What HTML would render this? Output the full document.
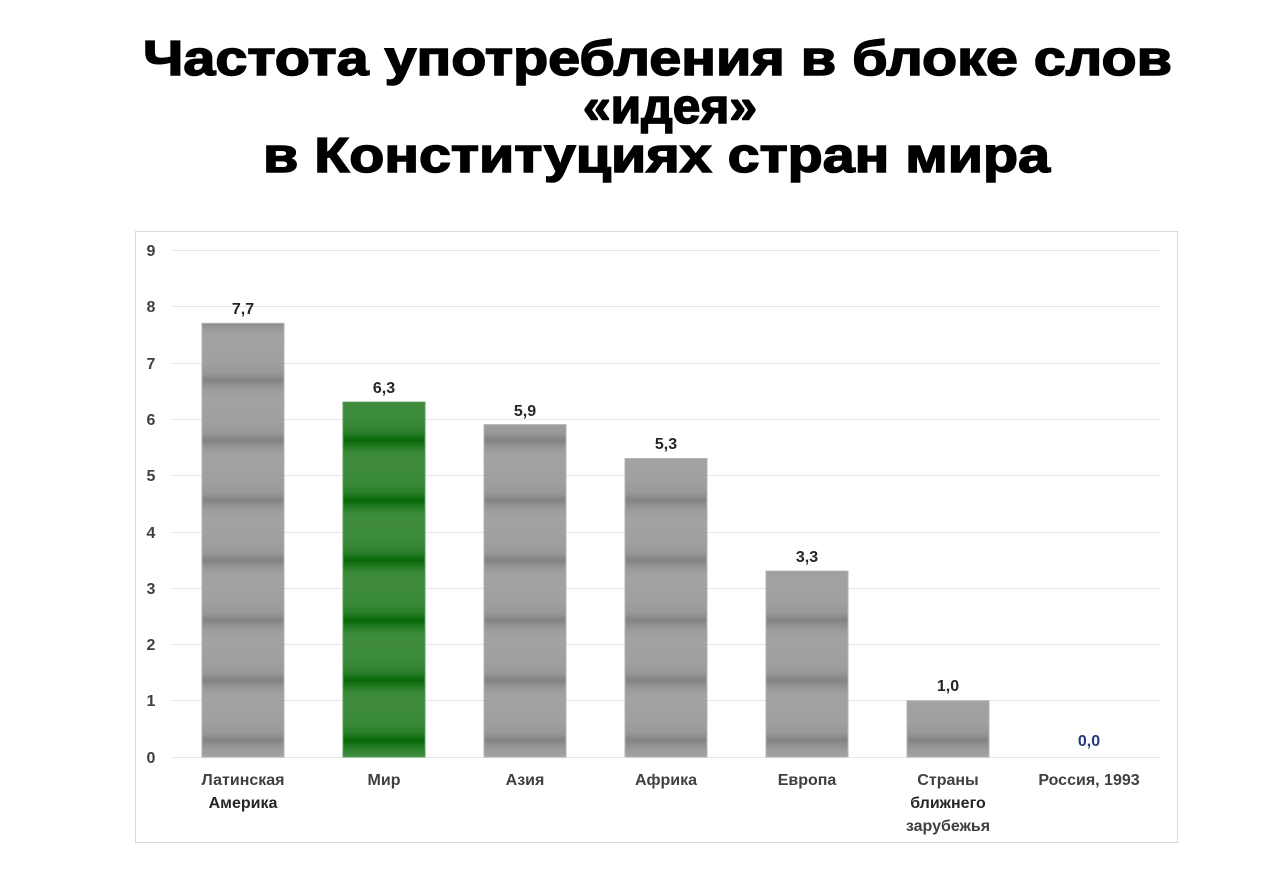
<!DOCTYPE html>
<html>
<head>
<meta charset="utf-8">
<style>
  html,body{margin:0;padding:0;background:#ffffff;}
  body{width:1280px;height:883px;overflow:hidden;}
  svg{display:block;}
</style>
</head>
<body>
<svg width="1280" height="883" viewBox="0 0 1280 883" xmlns="http://www.w3.org/2000/svg">
  <defs>
    <linearGradient id="gg" x1="0" y1="0" x2="0" y2="1">
      <stop offset="0" stop-color="#a2a2a2"/>
      <stop offset="0.4" stop-color="#a0a0a0"/>
      <stop offset="0.58" stop-color="#999999"/>
      <stop offset="0.66" stop-color="#8e8e8e"/>
      <stop offset="0.72" stop-color="#838383"/>
      <stop offset="0.79" stop-color="#8f8f8f"/>
      <stop offset="0.9" stop-color="#9d9d9d"/>
      <stop offset="1" stop-color="#a2a2a2"/>
    </linearGradient>
    <linearGradient id="gn" x1="0" y1="0" x2="0" y2="1">
      <stop offset="0" stop-color="#3f8c3f"/>
      <stop offset="0.4" stop-color="#3b893b"/>
      <stop offset="0.58" stop-color="#2c802c"/>
      <stop offset="0.66" stop-color="#177317"/>
      <stop offset="0.72" stop-color="#066706"/>
      <stop offset="0.79" stop-color="#187418"/>
      <stop offset="0.9" stop-color="#328532"/>
      <stop offset="1" stop-color="#3f8c3f"/>
    </linearGradient>
    <pattern id="pg" patternUnits="userSpaceOnUse" x="0" y="697" width="1280" height="60">
      <rect x="0" y="0" width="1280" height="60" fill="url(#gg)"/>
    </pattern>
    <pattern id="pn" patternUnits="userSpaceOnUse" x="0" y="697" width="1280" height="60">
      <rect x="0" y="0" width="1280" height="60" fill="url(#gn)"/>
    </pattern>
  </defs>

  <!-- Title -->
  <g font-family="'Liberation Sans', Arial, sans-serif" font-weight="bold" font-size="49" fill="#000" stroke="#000" stroke-width="1.5" text-anchor="start">
    <text x="143" y="75" textLength="1029" lengthAdjust="spacingAndGlyphs">Частота употребления в блоке слов</text>
    <text x="583" y="123" textLength="174" lengthAdjust="spacingAndGlyphs">«идея»</text>
    <text x="263" y="172" textLength="787" lengthAdjust="spacingAndGlyphs">в Конституциях стран мира</text>
  </g>

  <!-- Chart frame -->
  <rect x="135.5" y="231.5" width="1042" height="611" fill="#ffffff" stroke="#d9d9d9" stroke-width="1"/>

  <!-- Gridlines -->
  <g stroke="#e6e6e6" stroke-width="1">
    <line x1="172" y1="250.5" x2="1160" y2="250.5"/>
    <line x1="172" y1="306.5" x2="1160" y2="306.5"/>
    <line x1="172" y1="363.5" x2="1160" y2="363.5"/>
    <line x1="172" y1="419.5" x2="1160" y2="419.5"/>
    <line x1="172" y1="475.5" x2="1160" y2="475.5"/>
    <line x1="172" y1="532.5" x2="1160" y2="532.5"/>
    <line x1="172" y1="588.5" x2="1160" y2="588.5"/>
    <line x1="172" y1="644.5" x2="1160" y2="644.5"/>
    <line x1="172" y1="700.5" x2="1160" y2="700.5"/>
    <line x1="172" y1="757.5" x2="1160" y2="757.5"/>
  </g>

  <!-- Y axis labels -->
  <g font-family="'Liberation Sans', Arial, sans-serif" font-weight="bold" font-size="16" fill="#404040" text-anchor="middle">
    <text x="151" y="256">9</text>
    <text x="151" y="312">8</text>
    <text x="151" y="369">7</text>
    <text x="151" y="425">6</text>
    <text x="151" y="481">5</text>
    <text x="151" y="538">4</text>
    <text x="151" y="594">3</text>
    <text x="151" y="650">2</text>
    <text x="151" y="706">1</text>
    <text x="151" y="763">0</text>
  </g>

  <!-- Bars -->
  <g stroke-width="1">
    <rect x="202" y="323.3" width="82" height="433.7" fill="url(#pg)" stroke="#b3b3b3"/>
    <rect x="343" y="402.1" width="82" height="354.9" fill="url(#pn)" stroke="#5a9e5a"/>
    <rect x="484" y="424.6" width="82" height="332.4" fill="url(#pg)" stroke="#b3b3b3"/>
    <rect x="625" y="458.5" width="82" height="298.5" fill="url(#pg)" stroke="#b3b3b3"/>
    <rect x="766" y="571.1" width="82" height="185.9" fill="url(#pg)" stroke="#b3b3b3"/>
    <rect x="907" y="700.7" width="82" height="56.3" fill="url(#pg)" stroke="#b3b3b3"/>
  </g>

  <!-- Value labels -->
  <g font-family="'Liberation Sans', Arial, sans-serif" font-weight="bold" font-size="16" fill="#262626" text-anchor="middle">
    <text x="243" y="314">7,7</text>
    <text x="384" y="393">6,3</text>
    <text x="525" y="416">5,9</text>
    <text x="666" y="449">5,3</text>
    <text x="807" y="562">3,3</text>
    <text x="948" y="691">1,0</text>
    <text x="1089" y="746" fill="#1f3b7a">0,0</text>
  </g>

  <!-- Category labels -->
  <g font-family="'Liberation Sans', Arial, sans-serif" font-weight="bold" font-size="16" fill="#404040" text-anchor="middle">
    <text x="243" y="785">Латинская</text>
    <text x="243" y="808" fill="#262626">Америка</text>
    <text x="384" y="785">Мир</text>
    <text x="525" y="785">Азия</text>
    <text x="666" y="785">Африка</text>
    <text x="807" y="785">Европа</text>
    <text x="948" y="785">Страны</text>
    <text x="948" y="808" fill="#262626">ближнего</text>
    <text x="948" y="831">зарубежья</text>
    <text x="1089" y="785">Россия, 1993</text>
  </g>
</svg>
</body>
</html>
